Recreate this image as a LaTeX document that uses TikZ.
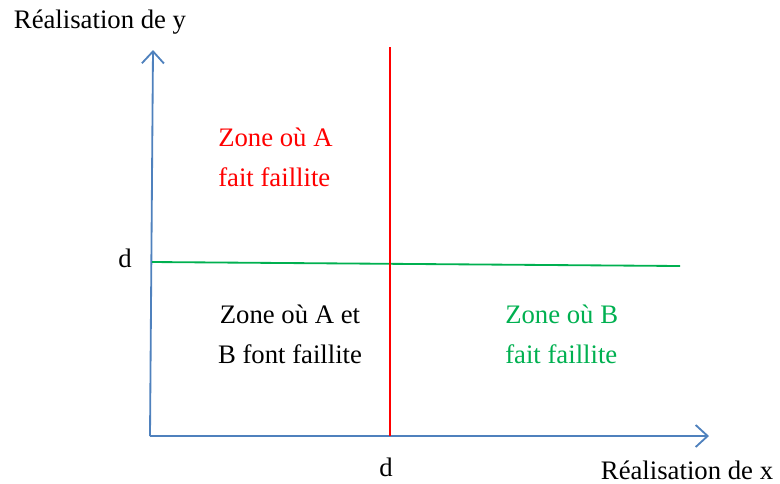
\documentclass[tikz,border=0pt]{standalone}
\usepackage{fontspec}
\setmainfont{Liberation Serif}
\usepackage{tikz}
\usetikzlibrary{arrows.meta}

\definecolor{axisblue}{HTML}{4F81BD}
\definecolor{zonegreen}{HTML}{00B050}
\definecolor{zonered}{HTML}{FF0000}

\begin{document}
\begin{tikzpicture}[x=0.025cm, y=-0.025cm,
        lbl/.style={font=\fontsize{19}{28.5}\selectfont, inner sep=0pt},
        zone/.style={lbl, align=left},
        axis/.style={axisblue, line width=1.3pt, -{Straight Barb[length=3mm, width=5.5mm, line width=1.3pt]}}]
        \useasboundingbox (0,0) rectangle (780,483);

        % we place the corner points of the axes
        \coordinate (o) at (150,436);
        \coordinate (ytop) at (153,50);
        \coordinate (xend) at (709,436);
        \coordinate (dyl) at (152,262);
        \coordinate (dyr) at (680,266);
        \coordinate (dxt) at (390,47);
        \coordinate (dxb) at (390,436);

        % we draw the two axes
        \draw[axis] (o) -- (ytop);
        \draw[axis] (o) -- (xend);

        % we draw the two thresholds
        \draw[zonegreen, line width=1.3pt] (dyl) -- (dyr);
        \draw[zonered, line width=1.3pt] (dxt) -- (dxb);

        % we label the axes
        \node[lbl] (ylab) at (100,22) {Réalisation de y};
        \node[lbl] (xlab) at (687,470) {Réalisation de x};
        \node[lbl] (dy) at (125,258) {d};
        \node[lbl] (dx) at (386,467) {d};

        % we name the zones
        \node[zone, zonered, anchor=west] (zonea) at (218,157) {Zone où A\\fait faillite};
        \node[zone, align=center] (zoneab) at (290,334) {Zone où A et\\B font faillite};
        \node[zone, zonegreen, anchor=west] (zoneb) at (505,334) {Zone où B\\fait faillite};
    \end{tikzpicture}
\end{document}
